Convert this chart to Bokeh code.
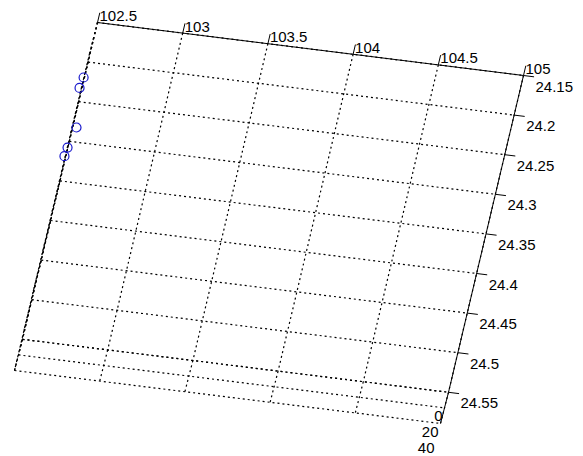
from bokeh.plotting import figure
from bokeh.models import Range1d
from bokeh.core.properties import value
from bokeh.embed import file_html
from bokeh.resources import INLINE

# Axis ticks
lon_ticks = [102.5, 103.0, 103.5, 104.0, 104.5, 105.0]
lon_labels = ["102.5", "103", "103.5", "104", "104.5", "105"]
lat_ticks = [24.15, 24.2, 24.25, 24.3, 24.35, 24.4, 24.45, 24.5, 24.55]
lat_labels = ["24.15", "24.2", "24.25", "24.3", "24.35", "24.4", "24.45", "24.5", "24.55"]
dep_ticks = [0, 20, 40]
dep_labels = ["0", "20", "40"]

# Station positions
st_lon = [102.495, 102.486, 102.522, 102.498, 102.492]
st_lat = [24.2196, 24.233, 24.282, 24.308, 24.319]
st_dep = [0, 0, 0, 0, 0]

LON0, LON1 = lon_ticks[0], lon_ticks[-1]
LAT0, LAT1 = lat_ticks[0], lat_ticks[-1]
DEP0, DEP1 = dep_ticks[0], dep_ticks[-1]

# Orthographic view: screen offset per unit of lon / lat / depth
ORIGIN = (97.0, 22.0)
E_LON = (170.4, 21.2)
E_LAT = (-187.5, 792.0)
E_DEP = (-0.2, 0.78)


def proj(lon, lat, dep):
    a, b, c = lon - LON0, lat - LAT0, dep
    return (ORIGIN[0] + a * E_LON[0] + b * E_LAT[0] + c * E_DEP[0],
            ORIGIN[1] + a * E_LON[1] + b * E_LAT[1] + c * E_DEP[1])


def seg(p, q):
    (x0, y0), (x1, y1) = proj(*p), proj(*q)
    return [x0, x1], [y0, y1]


W, H = 583, 456
p = figure(width=W, height=H, output_backend="svg", toolbar_location=None,
           x_range=Range1d(0, W), y_range=Range1d(H, 0), min_border=0)
p.axis.visible = False
p.grid.visible = False
p.outline_line_color = None
p.background_fill_color = "white"
p.border_fill_color = "white"

# Dotted grid on the three back planes
gx, gy = [], []
for lon in lon_ticks:
    for a, b in (((lon, LAT0, DEP0), (lon, LAT1, DEP0)),
                 ((lon, LAT1, DEP0), (lon, LAT1, DEP1))):
        xs, ys = seg(a, b); gx.append(xs); gy.append(ys)
for lat in lat_ticks:
    for a, b in (((LON0, lat, DEP0), (LON1, lat, DEP0)),
                 ((LON0, lat, DEP0), (LON0, lat, DEP1))):
        xs, ys = seg(a, b); gx.append(xs); gy.append(ys)
for d in dep_ticks:
    for a, b in (((LON0, LAT1, d), (LON1, LAT1, d)),
                 ((LON0, LAT0, d), (LON0, LAT1, d))):
        xs, ys = seg(a, b); gx.append(xs); gy.append(ys)
p.multi_line(gx, gy, line_color="black", line_width=1.2, line_dash="2 3")

# Solid axis lines
ax_x, ax_y = [], []
for a, b in (((LON0, LAT0, DEP0), (LON1, LAT0, DEP0)),
             ((LON1, LAT0, DEP0), (LON1, LAT1, DEP0)),
             ((LON1, LAT1, DEP0), (LON1, LAT1, DEP1))):
    xs, ys = seg(a, b); ax_x.append(xs); ax_y.append(ys)

# Tick marks
for lon in lon_ticks:
    xs, ys = seg((lon, LAT0, DEP0), (lon, LAT0 - 0.0123, DEP0))
    ax_x.append(xs); ax_y.append(ys)
for lat in lat_ticks:
    xs, ys = seg((LON1, lat, DEP0), (LON1 + 0.062, lat, DEP0))
    ax_x.append(xs); ax_y.append(ys)
p.multi_line(ax_x, ax_y, line_color="black", line_width=1)

font = value("Liberation Sans")
fs = "15px"

lx = [proj(v, LAT0, DEP0)[0] + 2 for v in lon_ticks]
ly = [proj(v, LAT0, DEP0)[1] - 6.5 for v in lon_ticks]
p.text(lx, ly, text=lon_labels, text_font=font, text_font_size=fs,
       text_color="black", text_align="left", text_baseline="middle")

tx = [proj(LON1, v, DEP0)[0] + 12 for v in lat_ticks]
ty = [proj(LON1, v, DEP0)[1] + 11 for v in lat_ticks]
p.text(tx, ty, text=lat_labels, text_font=font, text_font_size=fs,
       text_color="black", text_align="left", text_baseline="middle")

zx = [proj(LON1, LAT1, v)[0] - 6 for v in dep_ticks]
zy = [proj(LON1, LAT1, v)[1] + 24 for v in dep_ticks]
p.text(zx, zy, text=dep_labels, text_font=font, text_font_size=fs,
       text_color="black", text_align="right", text_baseline="middle")

# Stations
sx = [proj(a, b, c)[0] for a, b, c in zip(st_lon, st_lat, st_dep)]
sy = [proj(a, b, c)[1] for a, b, c in zip(st_lon, st_lat, st_dep)]
p.scatter(sx, sy, marker="circle", size=9, fill_color=None,
          line_color="#1a1acc", line_width=1.2)

open("out.html", "w").write(file_html(p, INLINE))
